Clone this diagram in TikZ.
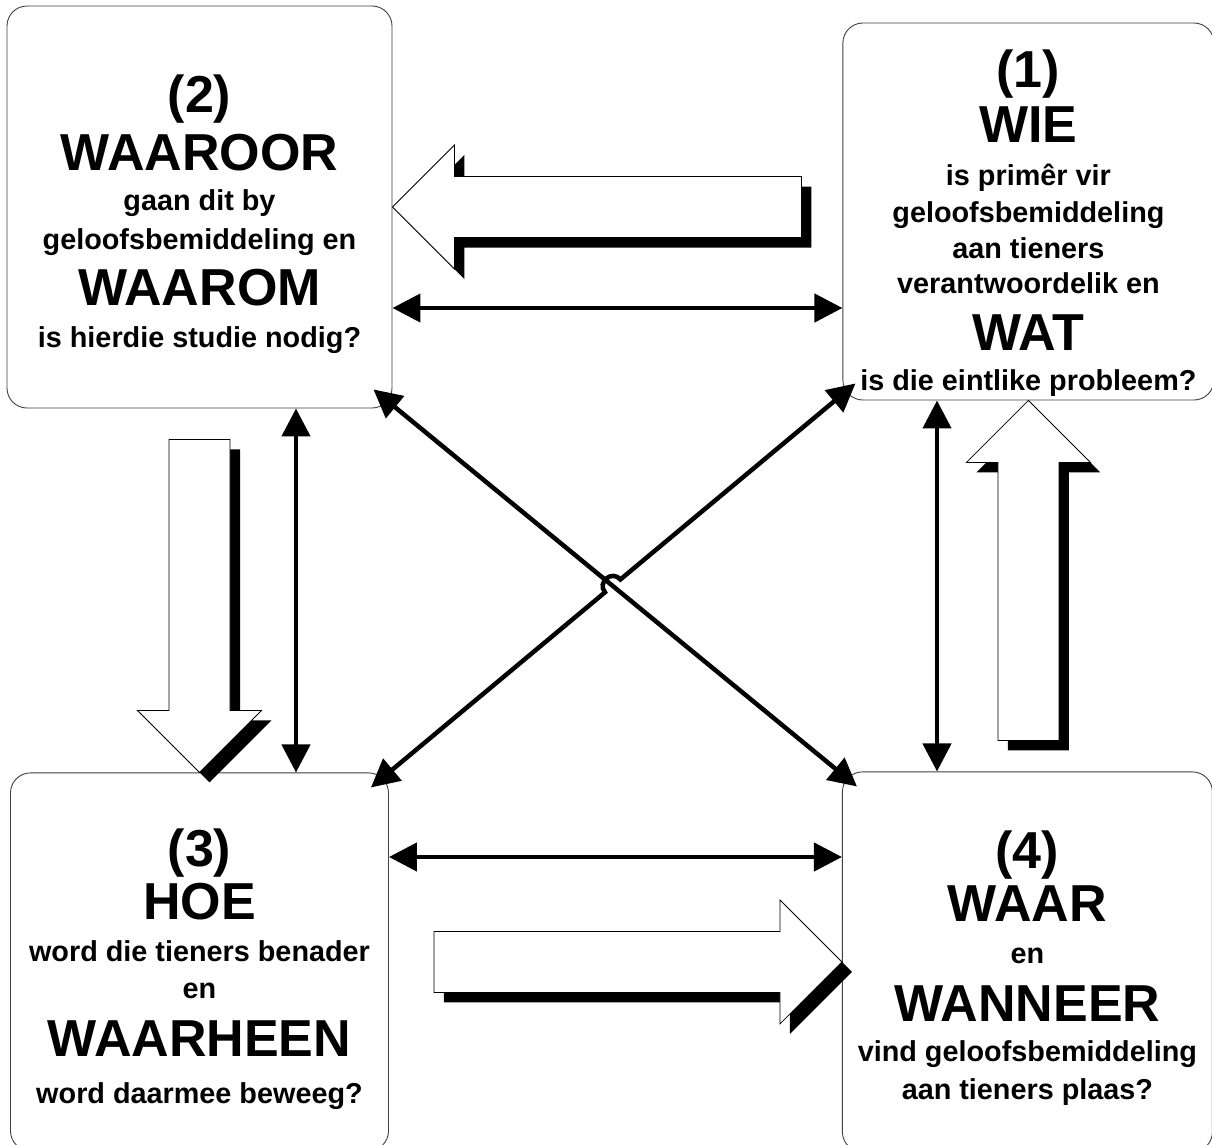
\documentclass[tikz,border=0pt]{standalone}
\usepackage{fontspec}
\setmainfont{Liberation Sans}
\usetikzlibrary{arrows.meta,calc,positioning}

\newcommand{\Kop}[1]{{\fontsize{52}{37}\selectfont #1}}
% block arrow with a drop shadow: tip, direction, length
\newcommand{\fatarrow}[3]{%
  \begin{scope}[shift={(#1)},shift={(10,10)},rotate=#2]
    \fill[black] (0,0) -- (-62,62) -- (-62,30.5) -- (-#3,30.5) -- (-#3,-30.5) -- (-62,-30.5) -- (-62,-62) -- cycle;
  \end{scope}
  \begin{scope}[shift={(#1)},rotate=#2]
    \filldraw[fill=white,draw=black,line width=0.8pt] (0,0) -- (-62,62) -- (-62,30.5) -- (-#3,30.5) -- (-#3,-30.5) -- (-62,-30.5) -- (-62,-62) -- cycle;
  \end{scope}}

\begin{document}
\begin{tikzpicture}[x=1pt,y=-1pt,
  box/.style={draw=black!75,line width=0.9pt,rounded corners=20pt,inner sep=0pt},
  txt/.style={align=center,inner sep=0pt,font={\bfseries\fontsize{28.8}{37}\selectfont\lineskiplimit=-100pt}},
  link/.style={line width=4.5pt,{Triangle[length=28pt,width=28pt]}-{Triangle[length=28pt,width=28pt]}}]
  \fill[white] (0,0) rectangle (1212,1144);
  \useasboundingbox (0,0) rectangle (1212,1144);

  % the four boxes
  \node[box,minimum width=385pt,minimum height=402pt] (b2) at (199.5,207) {};
  \node[box,minimum width=371pt,minimum height=377pt,right=450pt of b2,yshift=-4.5pt] (b1) {};
  \node[box,minimum width=378pt,minimum height=378pt,below=364pt of b2] (b3) {};
  \node[box,minimum width=370pt,minimum height=380pt,right=453pt of b3] (b4) {};

  % block arrows
  \fatarrow{b2.east}{180}{409}
  \fatarrow{b3.north}{-90}{333}
  \fatarrow{b1.south}{90}{340}
  \fatarrow{b4.west}{0}{408}

  % double arrows
  \draw[link] (b2.east |- 0,308) -- (b1.west |- 0,308);
  \draw[link] (b2.south -| 296,0) -- (b3.north -| 296,0);
  \draw[link] (b3.east |- 0,857) -- (b4.west |- 0,857);
  \draw[link] (b1.south -| 937,0) -- (b4.north -| 937,0);

  % diagonals, one hops over the other
  \coordinate (a1) at ([xshift=-19pt,yshift=19pt]b2.south east);
  \coordinate (a2) at ([xshift=15pt,yshift=-15pt]b4.north west);
  \coordinate (c1) at ([xshift=13pt,yshift=17pt]b1.south west);
  \coordinate (c2) at ([xshift=-18pt,yshift=-15pt]b3.north east);
  \coordinate (x) at (intersection of a1--a2 and c1--c2);
  \coordinate (j1) at ($(x)!10pt!(c2)$);
  \coordinate (j2) at ($(x)!10pt!(c1)$);
  \coordinate (k1) at ($(j1)!13pt!90:(x)$);
  \coordinate (k2) at ($(j2)!13pt!-90:(x)$);
  \draw[link] (a1) -- (a2);
  \draw[link] (c1) -- (j2) .. controls (k2) and (k1) .. (j1) -- (c2);

  % texts
  \node[txt] (t2) at ([yshift=-7.5pt]b2.center) {\Kop{(2)}\\[21pt]\Kop{WAAROOR}\\[3pt]gaan dit by\\[2pt]geloofsbemiddeling en\\[19pt]\Kop{WAAROM}\\[5pt]is hierdie studie nodig?};
  \node[txt] (t1) at ([yshift=-12pt]b1.center) {\Kop{(1)}\\[18pt]\Kop{WIE}\\[6pt]is primêr vir\\geloofsbemiddeling\\[-1pt]aan tieners\\[-2pt]verantwoordelik en\\[20pt]\Kop{WAT}\\[3pt]is die eintlike probleem?};
  \node[txt] (t3) at ([yshift=-7.5pt]b3.center) {\Kop{(3)}\\[16pt]\Kop{HOE}\\[5pt]word die tieners benader\\en\\[21pt]\Kop{WAARHEEN}\\[10pt]word daarmee beweeg?};
  \node[txt] (t4) at ([yshift=-6.5pt]b4.center) {\Kop{(4)}\\[16pt]\Kop{WAAR}\\[5pt]en\\[21pt]\Kop{WANNEER}\\[3pt]vind geloofsbemiddeling\\[1pt]aan tieners plaas?};
\end{tikzpicture}
\end{document}
